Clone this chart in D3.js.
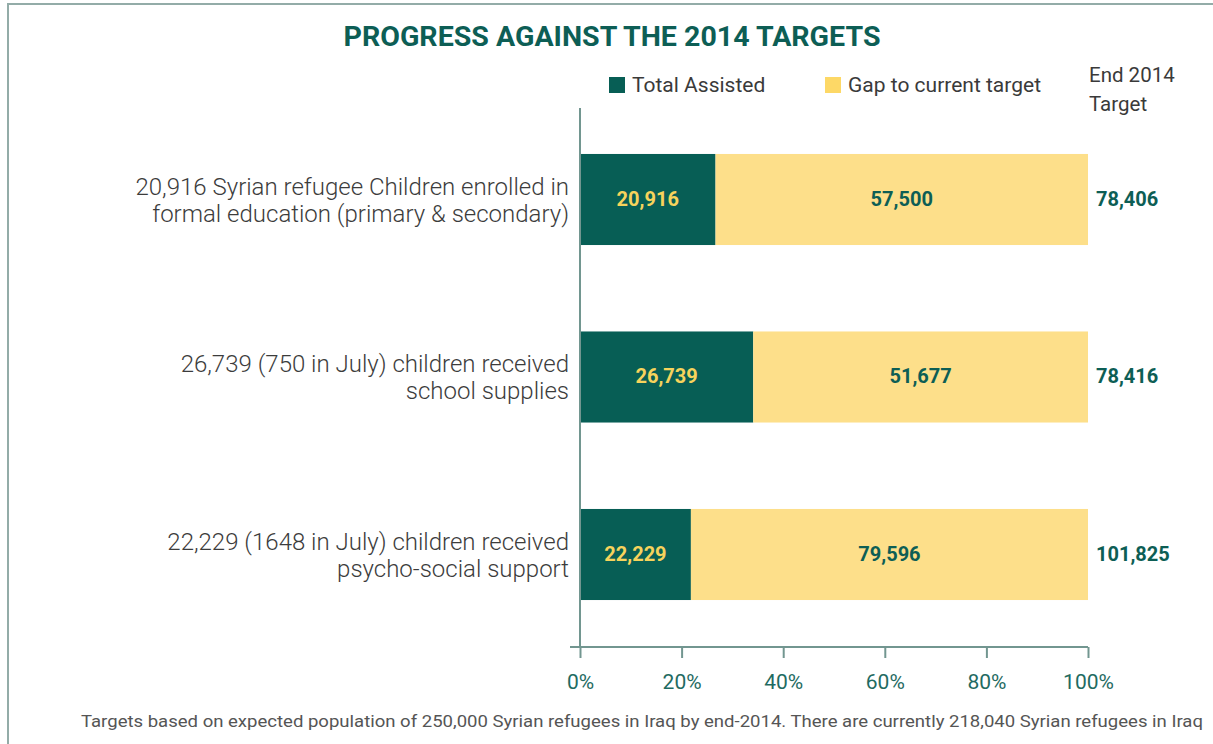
<!DOCTYPE html>
<html><head><meta charset="utf-8">
<script src="https://cdn.jsdelivr.net/npm/d3@7"></script>
<style>
body{margin:0;background:#fff;}
svg{display:block;font-family:Roboto,"Liberation Sans",sans-serif;}
</style></head>
<body><svg id="c" width="1213" height="744"></svg>
<script>
const categories = [
  ["20,916 Syrian refugee Children enrolled in","formal education (primary & secondary)"],
  ["26,739 (750 in July) children received","school supplies"],
  ["22,229 (1648 in July) children received","psycho-social support"]
];
const assisted = [20916, 26739, 22229];
const gap = [57500, 51677, 79596];
const targets = [78406, 78416, 101825];
const tickValues = [0, 0.2, 0.4, 0.6, 0.8, 1];
const seriesNames = ["Total Assisted","Gap to current target"];
const title = "PROGRESS AGAINST THE 2014 TARGETS";
const footnote = "Targets based  on expected population of 250,000 Syrian refugees in Iraq by end-2014. There are currently 218,040 Syrian refugees in Iraq";

const DARK = "#075e55", YELLOW = "#fddf8a", AXIS = "#729690", GREEN_TXT = "#0d5e55";
const svg = d3.select("#c");

// frame
svg.append("rect").attr("x",8).attr("y",4).attr("width",1240).attr("height",780)
  .attr("fill","none").attr("stroke","#93aca8").attr("stroke-width",2);

svg.append("text").attr("x",612).attr("y",46).attr("text-anchor","middle")
  .attr("font-size",27).attr("font-weight",700).attr("fill",GREEN_TXT)
  .attr("textLength",537).attr("lengthAdjust","spacingAndGlyphs").text(title);

const x = d3.scaleLinear().domain([0,1]).range([580,1088]);
const y = d3.scaleBand().domain(d3.range(categories.length)).range([110.75,643.25]).paddingInner(0.487).paddingOuter(0.2435);

const data = categories.map((c,i)=>({c, a:assisted[i], g:gap[i], t:targets[i]}));

const rows = svg.selectAll("g.row").data(data).join("g").attr("class","row");
rows.append("rect").attr("x",x(0)).attr("y",(d,i)=>y(i)).attr("height",y.bandwidth())
  .attr("width",d=>x(d.a/d.t)-x(0)).attr("fill",DARK);
rows.append("rect").attr("x",d=>x(d.a/d.t)).attr("y",(d,i)=>y(i)).attr("height",y.bandwidth())
  .attr("width",d=>x(1)-x(d.a/d.t)).attr("fill",YELLOW);
const fmt = d3.format(",");
rows.append("text").attr("x",d=>(x(0)+x(d.a/d.t))/2).attr("y",(d,i)=>y(i)+y.bandwidth()/2-1)
  .attr("dy","0.35em").attr("text-anchor","middle").attr("font-size",20).attr("font-weight",700)
  .attr("fill","#f6d35c").text(d=>fmt(d.a));
rows.append("text").attr("x",d=>(x(d.a/d.t)+x(1))/2).attr("y",(d,i)=>y(i)+y.bandwidth()/2-1)
  .attr("dy","0.35em").attr("text-anchor","middle").attr("font-size",20).attr("font-weight",700)
  .attr("fill",GREEN_TXT).text(d=>fmt(d.g));
rows.append("text").attr("x",x(1)+8).attr("y",(d,i)=>y(i)+y.bandwidth()/2-1)
  .attr("dy","0.35em").attr("font-size",20).attr("font-weight",700)
  .attr("fill",GREEN_TXT).text(d=>fmt(d.t));
rows.append("text").attr("x",569).attr("y",(d,i)=>y(i)+y.bandwidth()/2)
  .attr("text-anchor","end").attr("font-size",24).attr("font-weight",300).attr("fill","#3c3c3c")
  .selectAll("tspan").data(d=>d.c).join("tspan").attr("x",569)
  .attr("dy",(t,j)=>j===0?"-0.2em":"1.13em").text(t=>t);

// axes
svg.append("line").attr("x1",x(0)).attr("x2",x(0)).attr("y1",108).attr("y2",647)
  .attr("stroke",AXIS).attr("stroke-width",2);
const xAxis = svg.append("g").attr("transform","translate(0,647)")
  .call(d3.axisBottom(x).tickValues(tickValues).tickFormat(d3.format(".0%")).tickSize(11).tickSizeOuter(0));
xAxis.select(".domain").attr("d",`M570,0H${x(1)}`).attr("stroke",AXIS).attr("stroke-width",2);
xAxis.selectAll(".tick line").attr("stroke",AXIS).attr("stroke-width",2);
xAxis.selectAll(".tick text").attr("font-size",21).attr("fill","#1f6b62").attr("y",27).attr("dy","0.71em")
  .attr("font-family","Roboto,sans-serif").attr("font-weight",400);

// legend
const lg = [{n:seriesNames[0],c:DARK,x:609},{n:seriesNames[1],c:"#fdd866",x:825}];
lg.forEach(l=>{
  svg.append("rect").attr("x",l.x).attr("y",77).attr("width",16).attr("height",16).attr("fill",l.c);
  svg.append("text").attr("x",l.x+23).attr("y",85).attr("dy","0.35em").attr("font-size",21)
    .attr("fill","#3a3a3a").text(l.n);
});
svg.append("text").attr("x",1089).attr("y",82).attr("font-size",20.5).attr("fill","#3a3a3a").text("End 2014");
svg.append("text").attr("x",1089).attr("y",111).attr("font-size",20.5).attr("fill","#3a3a3a").text("Target");

svg.append("text").attr("x",81).attr("y",727).attr("font-size",16).attr("fill","#555")
  .attr("textLength",1122).attr("lengthAdjust","spacingAndGlyphs").text(footnote);
</script></body></html>
